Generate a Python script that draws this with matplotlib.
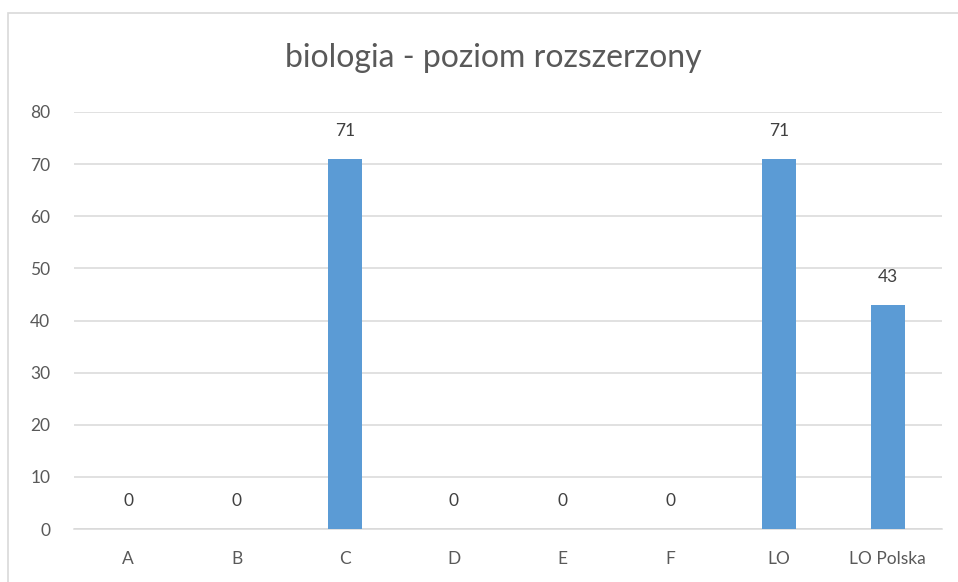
import matplotlib
matplotlib.use('Agg')
import numpy as np
from matplotlib import pyplot as plt
from matplotlib.patches import Rectangle

categories = ['A', 'B', 'C', 'D', 'E', 'F', 'LO', 'LO Polska']
values = [0, 0, 71, 0, 0, 0, 71, 43]
yticks = [0, 10, 20, 30, 40, 50, 60, 70, 80]
title = 'biologia - poziom rozszerzony'

plt.rcParams['font.family'] = ['Lato', 'DejaVu Sans']
txt = '#595959'

fig = plt.figure(figsize=(9.58, 5.82), dpi=100)
fig.patch.set_facecolor('white')
# chart border (cut by image edge on the right / bottom)
fig.patches.append(Rectangle((8 / 958, -0.05), 1.1, 0.05 + 1 - 13 / 582,
                             transform=fig.transFigure, fill=False,
                             edgecolor='#D9D9D9', linewidth=1.2))

ax = fig.add_axes([74 / 958, 1 - 529 / 582, (942 - 74) / 958, (529 - 112) / 582])
x = np.arange(len(categories))
bars = ax.bar(x, values, width=0.31, color='#5B9BD5', zorder=3)

for xi, v in zip(x, values):
    ax.annotate(str(v), (xi, v), xytext=(0, 20), textcoords='offset points',
                ha='center', va='center', fontsize=12.5, color='#404040')

ax.set_xlim(-0.5, len(categories) - 0.5)
ax.set_ylim(0, 80)
ax.set_yticks(yticks)
ax.set_xticks(x)
ax.set_xticklabels(categories)
ax.tick_params(axis='both', length=0, labelsize=12.5, labelcolor=txt)
ax.tick_params(axis='y', pad=17)
ax.tick_params(axis='x', pad=16)
ax.grid(axis='y', color='#D9D9D9', linewidth=1.1, zorder=0)
for s in ['left', 'right', 'top']:
    ax.spines[s].set_visible(False)
ax.spines['bottom'].set_color('#D9D9D9')
ax.spines['bottom'].set_linewidth(1.1)

fig.text(493 / 958, 1 - 58 / 582, title, ha='center', va='center',
         fontsize=23, color=txt)

plt.savefig('out.png', dpi=100)
